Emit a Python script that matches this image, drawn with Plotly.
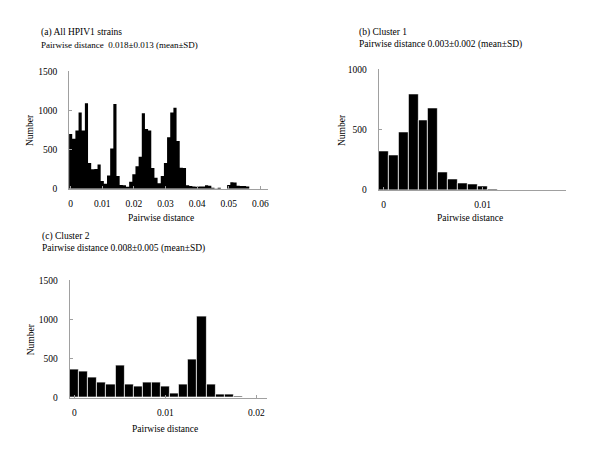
import plotly.graph_objects as go

# ---- data ----
a_counts = [700, 640, 745, 975, 745, 1095, 330, 250, 255, 310,
            100, 65, 170, 515, 1085, 165, 50, 45, 25, 90,
            185, 290, 410, 965, 765, 745, 265, 140, 70, 165,
            330, 660, 975, 1035, 610, 270, 265, 45, 35, 30,
            25, 30, 30, 45, 40, 15, 5, 15, 0, 0,
            50, 85, 80, 40, 35, 35, 30, 0, 0, 0,
            0, 0, 0]
b_counts = [325, 290, 475, 795, 575, 680, 145, 90, 60, 50,
            35, 10, 0, 0, 0, 0, 0, 0, 0]
c_counts = [360, 335, 260, 190, 170, 415, 170, 150, 195, 190,
            145, 55, 170, 495, 1035, 170, 45, 45, 18, 0,
            0, 0]
bin_width = 0.001
a_bins = [round(k * bin_width, 3) for k in range(len(a_counts))]
b_bins = [round(k * bin_width, 3) for k in range(len(b_counts))]
c_bins = [round(k * bin_width, 3) for k in range(len(c_counts))]

a_xticks = [0, 0.01, 0.02, 0.03, 0.04, 0.05, 0.06]
a_xlabels = ["0", "0.01", "0.02", "0.03", "0.04", "0.05", "0.06"]
b_xticks = [0, 0.01]
b_xlabels = ["0", "0.01"]
c_xticks = [0, 0.01, 0.02]
c_xlabels = ["0", "0.01", "0.02"]
a_yticks = [0, 500, 1000, 1500]
b_yticks = [0, 500, 1000]
c_yticks = [0, 500, 1000, 1500]

titles = {
    "a": ["(a) All HPIV1 strains", "Pairwise distance \u00a00.018\u00b10.013 (mean\u00b1SD)"],
    "b": ["(b) Cluster 1", "Pairwise distance 0.003\u00b10.002 (mean\u00b1SD)"],
    "c": ["(c) Cluster 2", "Pairwise distance 0.008\u00b10.005 (mean\u00b1SD)"],
}

# ---- layout helpers ----
W, H = 600, 450
FONT = "Liberation Serif"
FS = 9.5
AXC = "#a0a0a0"

def px_x(p):
    return p / W

def px_y(p):
    return 1 - p / H

fig = go.Figure()

# panel (a): contiguous histogram drawn as a filled step outline (bins touch, no gaps)
a_edges = [b - bin_width / 2 for b in a_bins] + [a_bins[-1] + bin_width / 2]
a_step_y = a_counts + [a_counts[-1]]
fig.add_trace(go.Scatter(x=a_edges, y=a_step_y, mode="lines", line=dict(shape="hv", color="black", width=0),
                         fill="tozeroy", fillcolor="black", xaxis="x", yaxis="y", hoverinfo="skip"))
fig.add_trace(go.Bar(x=b_bins, y=b_counts, width=bin_width,
                     marker=dict(color="black", line=dict(color="white", width=0.7)),
                     xaxis="x2", yaxis="y2"))
fig.add_trace(go.Bar(x=c_bins, y=c_counts, width=bin_width,
                     marker=dict(color="black", line=dict(color="white", width=0.7)),
                     xaxis="x3", yaxis="y3"))

def xaxis(dom, rng, tv, tt, anchor):
    return dict(domain=dom, range=rng, tickvals=tv, ticktext=tt, anchor=anchor,
                showline=True, linecolor=AXC, linewidth=1, ticks="inside", ticklen=3,
                tickcolor=AXC, showgrid=False, zeroline=False,
                tickfont=dict(family=FONT, size=FS, color="black"), ticklabelstandoff=6)

def yaxis(dom, rng, tv, anchor):
    return dict(domain=dom, range=rng, tickvals=tv, anchor=anchor,
                showline=True, linecolor=AXC, linewidth=1, ticks="inside", ticklen=3,
                tickcolor=AXC, showgrid=False, zeroline=False,
                tickfont=dict(family=FONT, size=FS, color="black"), ticklabelstandoff=9)

fig.update_layout(
    width=W, height=H, margin=dict(l=0, r=0, t=0, b=0),
    paper_bgcolor="white", plot_bgcolor="white", showlegend=False, bargap=0,
    xaxis=xaxis([px_x(68.3), px_x(267.5)], [-0.0005, 0.0623], a_xticks, a_xlabels, "y"),
    yaxis=yaxis([px_y(188), px_y(68)], [0, 1500], a_yticks, "x"),
    xaxis2=xaxis([px_x(379), px_x(566.7)], [-0.0005, 0.0184], b_xticks, b_xlabels, "y2"),
    yaxis2=yaxis([px_y(189.3), px_y(65.7)], [0, 1000], b_yticks, "x2"),
    xaxis3=xaxis([px_x(69), px_x(266.7)], [-0.0005, 0.02115], c_xticks, c_xlabels, "y3"),
    yaxis3=yaxis([px_y(401.7), px_y(281.7)], [0, 1500], c_yticks, "x3"),
)

def ann(text, x, y, xanchor="left", angle=0, size=FS):
    fig.add_annotation(text=text, x=px_x(x), y=px_y(y), xref="paper", yref="paper",
                       xanchor=xanchor, yanchor="middle", showarrow=False, textangle=angle,
                       font=dict(family=FONT, size=size, color="black"))

# panel titles
ann(titles["a"][0], 38, 28)
ann(titles["a"][1], 38, 41, size=9)
ann(titles["b"][0], 357, 28)
ann(titles["b"][1], 357, 40)
ann(titles["c"][0], 39, 237)
ann(titles["c"][1], 39, 249)

# axis titles
ann("Pairwise distance", 161, 218, "center")
ann("Pairwise distance", 471, 218, "center")
ann("Pairwise distance", 165, 434, "center")
ann("Number", 29, 128, "center", -90)
ann("Number", 342, 128, "center", -90)
ann("Number", 30, 342, "center", -90)

fig.write_html("out.html", config={"displayModeBar": False},
               post_script="document.body.style.margin='0';")
